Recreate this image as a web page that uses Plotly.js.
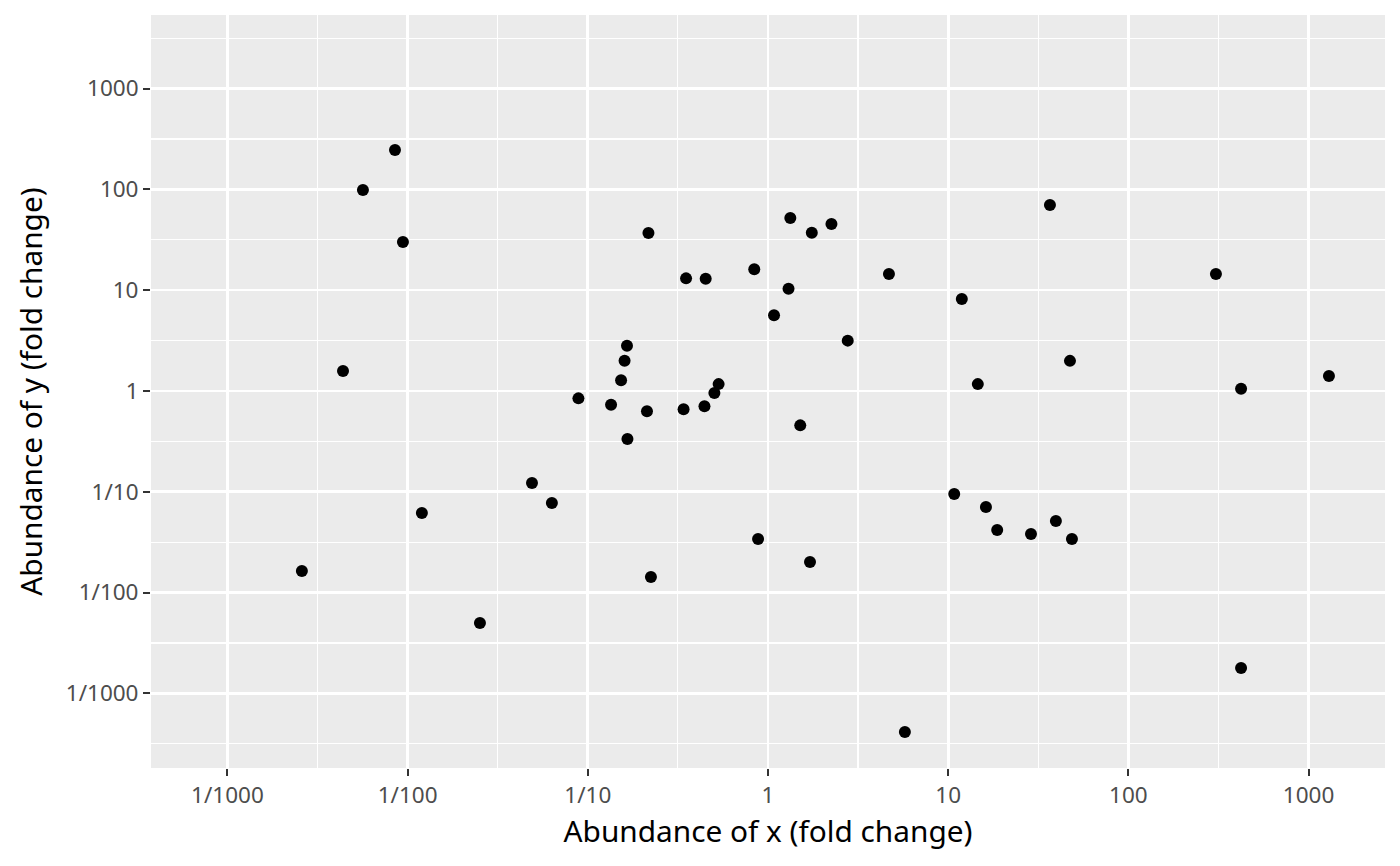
<!DOCTYPE html>
<html><head><meta charset="utf-8">
<script src="https://cdn.plot.ly/plotly-3.0.1.min.js"></script>
<style>html,body{margin:0;padding:0;background:#fff}#chart{width:1400px;height:866px}</style>
</head><body><div id="chart"></div>
<script>
// Fold-change values
const xFold = [0.00259, 0.00438, 0.00565, 0.00851, 0.00942, 0.0120, 0.0252, 0.0490, 0.0632, 0.0887,
  0.1346, 0.153, 0.160, 0.165, 0.166, 0.213, 0.217, 0.224, 0.340, 0.351,
  0.444, 0.451, 0.504, 0.532, 0.839, 0.881, 1.08, 1.30, 1.33, 1.51,
  1.71, 1.75, 2.25, 2.77, 4.69, 5.75, 10.8, 11.9, 14.6, 16.2,
  18.7, 28.8, 36.7, 39.6, 47.4, 48.6, 306, 422, 422, 1297];
const yFold = [0.0164, 1.58, 98.6, 246, 30.1, 0.0617, 0.00499, 0.122, 0.0774, 0.845,
  0.731, 1.276, 2.0, 2.81, 0.334, 0.628, 36.9, 0.0143, 0.659, 13.1,
  0.705, 13.0, 0.955, 1.17, 16.1, 0.034, 5.64, 10.35, 52.0, 0.456,
  0.0201, 37.2, 45.4, 3.16, 14.5, 0.000414, 0.095, 8.18, 1.17, 0.0706,
  0.0418, 0.0381, 70.0, 0.0513, 1.99, 0.034, 14.5, 1.05, 0.00179, 1.41];

const tickVals = [0.001, 0.01, 0.1, 1, 10, 100, 1000];
const tickText = ['1/1000', '1/100', '1/10', '1', '10', '100', '1000'];
const minorVals = [0.000316, 0.00316, 0.0316, 0.316, 3.16, 31.6, 316, 3162];

const FONT = '"Noto Sans", "Open Sans", sans-serif';

function axis(title, range, standoff) {
  return {
    type: 'log',
    range: range,
    tickmode: 'array',
    tickvals: tickVals,
    ticktext: tickText,
    ticks: 'outside',
    ticklen: 7,
    tickwidth: 2,
    tickcolor: '#333333',
    tickfont: {family: FONT, size: 22.5, color: '#4D4D4D'},
    showgrid: true,
    gridcolor: '#FFFFFF',
    gridwidth: 2.6,
    zeroline: false,
    showline: false,
    automargin: false,
    minor: {tickvals: minorVals, showgrid: true, gridcolor: '#FFFFFF', gridwidth: 1.3, ticks: ''},
    title: {text: title, font: {family: FONT, size: 29.8, color: '#000000'}, standoff: standoff}
  };
}

const trace = {
  type: 'scatter',
  mode: 'markers',
  x: xFold,
  y: yFold,
  marker: {color: '#000000', size: 12, line: {width: 0}},
  hoverinfo: 'skip'
};

const layout = {
  width: 1400,
  height: 866,
  margin: {l: 151, r: 15, t: 15, b: 98, pad: 0},
  paper_bgcolor: '#FFFFFF',
  plot_bgcolor: '#EBEBEB',
  showlegend: false,
  font: {family: FONT},
  xaxis: axis('Abundance of x (fold change)', [-3.424, 3.424], 8),
  yaxis: axis('Abundance of y (fold change)', [-3.74, 3.73], 14)
};

Plotly.newPlot('chart', [trace], layout, {displayModeBar: false, staticPlot: true});
</script>
</body></html>
